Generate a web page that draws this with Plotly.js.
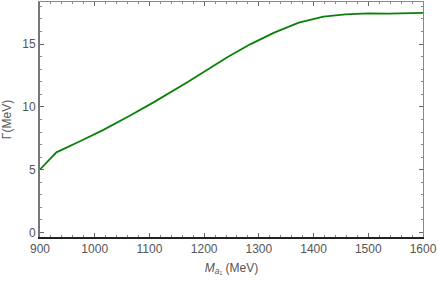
<!DOCTYPE html>
<html><head><meta charset="utf-8">
<script src="https://cdn.plot.ly/plotly-3.0.1.min.js"></script>
<style>html,body{margin:0;padding:0;background:#fff}#c{width:438px;height:282px}</style>
</head><body><div id="c"></div>
<script>
const massMeV = [900, 930, 975, 1015, 1064, 1109, 1170, 1200, 1243, 1285, 1328, 1373, 1418, 1458, 1500, 1537, 1600];
const widthMeV = [5.02, 6.38, 7.3, 8.15, 9.3, 10.4, 11.98, 12.8, 13.97, 15.0, 15.91, 16.71, 17.18, 17.37, 17.45, 17.42, 17.48];
const xTickVals = [900, 1000, 1100, 1200, 1300, 1400, 1500, 1600];
const yTickVals = [0, 5, 10, 15];

const tickFont = {family: 'Liberation Sans, Arial, sans-serif', size: 12, color: '#555'};
const traces = [
  {x: massMeV, y: widthMeV, type: 'scatter', mode: 'lines', line: {color: '#0a800a', width: 1.8}, hoverinfo: 'skip'},
  {x: massMeV, y: widthMeV, xaxis: 'x2', yaxis: 'y2', type: 'scatter', mode: 'lines', opacity: 0, line: {width: 0}, hoverinfo: 'skip'}
];
const commonX = {range: [900, 1600], tickvals: xTickVals, ticks: 'inside', ticklen: 4, tickcolor: '#666', showgrid: false, zeroline: false,
  minor: {dtick: 20, tick0: 900, ticks: 'inside', ticklen: 2, tickcolor: '#888', showgrid: false}};
const commonY = {range: [-0.36, 18.35], tickvals: yTickVals, ticks: 'inside', ticklen: 4, tickcolor: '#666', showgrid: false, zeroline: false,
  minor: {dtick: 1, tick0: 0, ticks: 'inside', ticklen: 2, tickcolor: '#888', showgrid: false}};
const layout = {
  width: 438, height: 282,
  margin: {l: 40, r: 15, t: 2, b: 45},
  paper_bgcolor: '#fff', plot_bgcolor: '#fff',
  showlegend: false,
  xaxis: Object.assign({}, commonX, {showline: true, linecolor: '#222', linewidth: 1.5, tickfont: tickFont,
    title: {text: '<i>M</i><sub><i>a</i>₁</sub> (MeV)', font: {family: 'Liberation Sans, Arial, sans-serif', size: 12, color: '#555'}, standoff: 8}}),
  yaxis: Object.assign({}, commonY, {showline: true, linecolor: '#777', linewidth: 2, tickfont: tickFont,
    title: {text: 'Γ(MeV)', font: {family: 'Liberation Sans, Arial, sans-serif', size: 12, color: '#555'}, standoff: 10}}),
  xaxis2: Object.assign({}, commonX, {overlaying: 'x', side: 'top', anchor: 'y2', showline: true, linecolor: '#888', linewidth: 1, showticklabels: false}),
  yaxis2: Object.assign({}, commonY, {overlaying: 'y', side: 'right', anchor: 'x2', showline: true, linecolor: '#888', linewidth: 1, showticklabels: false})
};
Plotly.newPlot('c', traces, layout, {staticPlot: true});
</script></body></html>
